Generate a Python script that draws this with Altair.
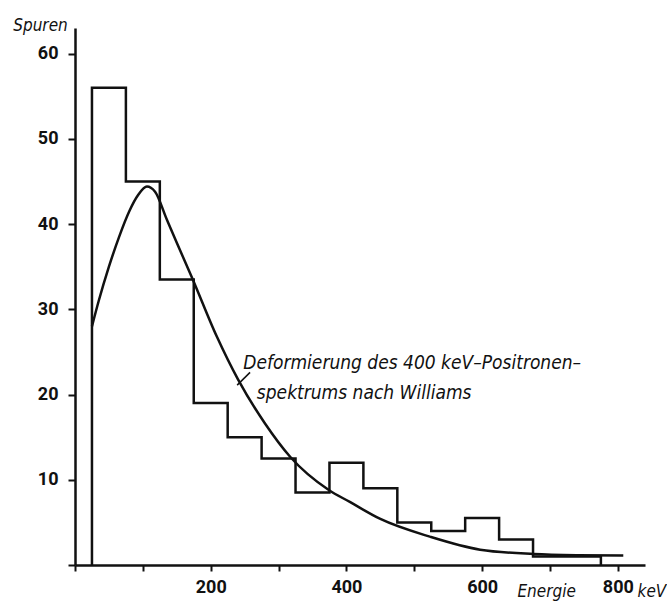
import altair as alt
import pandas as pd

# ---- data ----
bin_edges = [25, 75, 125, 175, 225, 275, 325, 375, 425, 475, 525, 575, 625, 675, 775]
bin_counts = [56, 45, 33.5, 19, 15, 12.5, 8.5, 12, 9, 5, 4, 5.5, 3, 1]

curve_energy = [25, 35, 50, 65, 80, 93, 106, 118, 135, 150, 172, 209, 240, 280,
                317, 374, 405, 450, 524, 597, 676, 740, 808]
curve_tracks = [28, 31, 35, 38.5, 41.5, 43.4, 44.4, 43.8, 40.6, 37.8, 33.8, 26.8,
                21.8, 16.6, 12.7, 8.8, 7.4, 5.4, 3.3, 1.8, 1.3, 1.15, 1.1]

x_ticks = [0, 100, 200, 300, 400, 500, 600, 700, 800]
y_ticks = [0, 10, 20, 30, 40, 50, 60]

note_lines = ["Deformierung des 400 keV\u2013Positronen\u2013", "spektrums  nach  Williams"]
note_x = [248, 268]
note_y = [23.0, 19.5]
leader_x, leader_x2, leader_y, leader_y2 = [239], [258], [21.1], [22.6]

ann_text = ["Spuren", "Energie", "keV"]
ann_x = [-91, 652, 829]
ann_y = [62.7, -3.75, -3.75]
ann_size = [17, 17, 17]

FONT = "DejaVu Sans Condensed, DejaVu Sans, sans-serif"
TICK_FONT = "Roboto, Liberation Sans, sans-serif"
INK = "#111111"

# ---- build tables ----
hx, hy = [bin_edges[0]], [0]
for i, c in enumerate(bin_counts):
    hx += [bin_edges[i], bin_edges[i + 1]]
    hy += [c, c]
hx.append(bin_edges[-1])
hy.append(0)
hist = pd.DataFrame({"x": hx, "y": hy, "o": list(range(len(hx)))})
curve = pd.DataFrame({"x": curve_energy, "y": curve_tracks})
notes = pd.DataFrame({"x": note_x, "y": note_y, "t": note_lines})
leader = pd.DataFrame({"x": leader_x, "x2": leader_x2, "y": leader_y, "y2": leader_y2})
ann = pd.DataFrame({"x": ann_x, "y": ann_y, "t": ann_text, "s": ann_size})

xs = alt.Scale(domain=[0, 840], nice=False, zero=False)
ys = alt.Scale(domain=[0, 63], nice=False, zero=False)

x_axis = alt.Axis(values=x_ticks, title=None, grid=False,
                  labelExpr="datum.value % 200 == 0 && datum.value > 0 ? datum.label : ''",
                  tickSize=6, tickWidth=2, domainWidth=2.5, domainColor=INK, tickColor=INK,
                  labelFont=TICK_FONT, labelFontSize=18, labelFontWeight="bold", labelColor=INK,
                  labelPadding=7, labelFlush=False, labelOverlap=False)
y_axis = alt.Axis(values=y_ticks, title=None, grid=False,
                  labelExpr="datum.value > 0 ? datum.label : ''",
                  tickSize=7, tickWidth=2, domainWidth=2.5, domainColor=INK, tickColor=INK,
                  labelFont=TICK_FONT, labelFontSize=18, labelFontWeight="bold", labelColor=INK,
                  labelPadding=10, labelFlush=False, labelOverlap=False)

X = alt.X("x:Q", scale=xs, axis=x_axis)
Y = alt.Y("y:Q", scale=ys, axis=y_axis)

hist_layer = alt.Chart(hist).mark_line(color=INK, strokeWidth=2.5, strokeJoin="miter").encode(
    x=X, y=Y, order="o:Q",
)

curve_layer = alt.Chart(curve).mark_line(color=INK, strokeWidth=2.5, interpolate="monotone").encode(
    x=X, y=Y,
)

leader_layer = alt.Chart(leader).mark_rule(color=INK, strokeWidth=1.5).encode(
    x=X, x2="x2:Q", y=Y, y2="y2:Q",
)

notes_layer = alt.Chart(notes).mark_text(
    align="left", baseline="alphabetic", font=FONT, fontSize=19, fontStyle="italic", color=INK
).encode(x=X, y=Y, text="t:N")

ann_layer = alt.Chart(ann).mark_text(
    align="left", baseline="alphabetic", font=FONT, fontStyle="italic", color=INK
).encode(
    x=X, y=Y, text="t:N",
    size=alt.Size("s:Q", scale=None, legend=None),
)

chart = alt.layer(hist_layer, curve_layer, leader_layer, notes_layer, ann_layer).properties(
    width=570, height=537,
    autosize=alt.AutoSizeParams(type="none"),
    padding={"left": 75, "top": 28, "right": 22, "bottom": 39},
    background="white",
).configure_view(stroke=None)

chart.save("out.html", embed_options={"renderer": "svg", "actions": False})
